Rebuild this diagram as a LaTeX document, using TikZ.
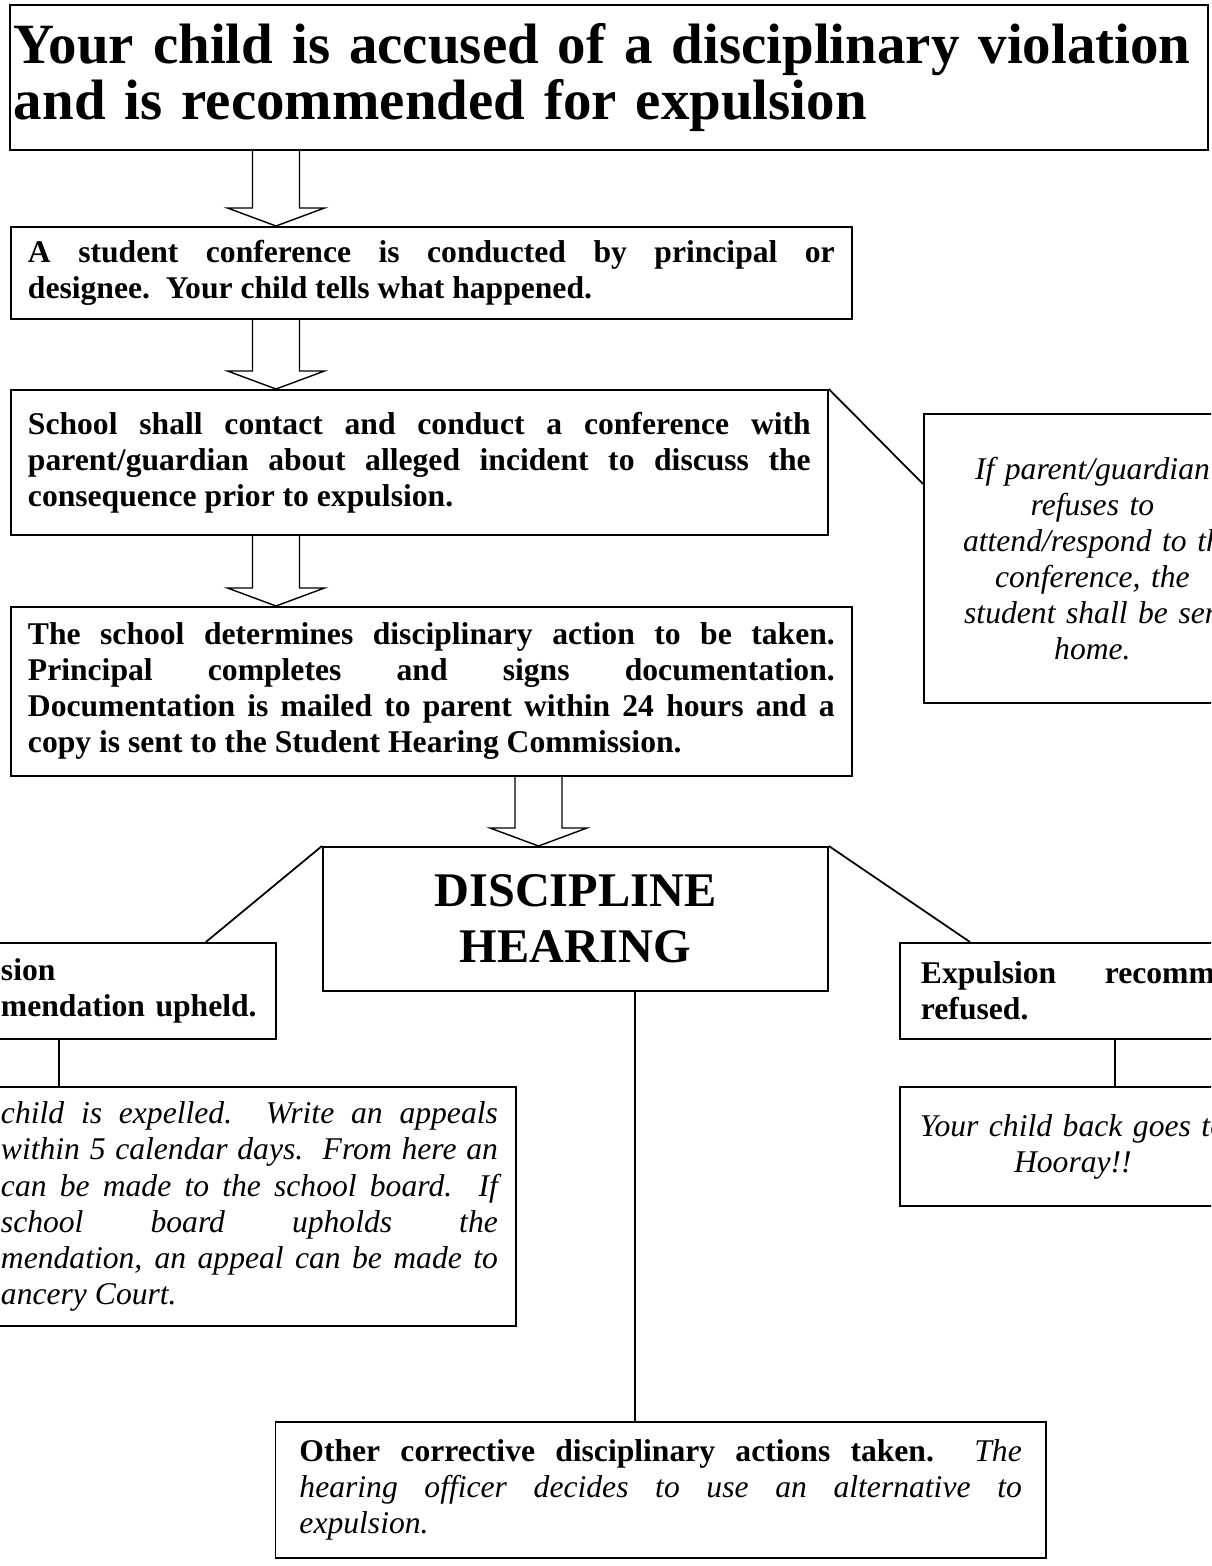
\documentclass[tikz,border=0pt]{standalone}
\usepackage{fontspec}
\setmainfont{Liberation Serif}
\usetikzlibrary{calc}
\tolerance=10000
\hbadness=10000
\hyphenpenalty=10000
\tikzset{
  flow box/.style={
    draw=black,
    line width=1.1pt,
    anchor=north west,
    inner xsep=0.34cm,
    inner ysep=0pt,
    align=justify,
    font=\fontsize{18}{20.5}\selectfont\bfseries,
  },
  note box/.style={
    flow box,
    font=\fontsize{18}{20.5}\selectfont\itshape,
  },
  flow link/.style={line width=1pt, draw=black},
  flow arrow/.style={line width=0.8pt, draw=black, line join=miter},
}
% hollow block arrow: upper node, lower node, x offset from upper.south west
\newcommand{\hollowarrow}[3]{%
  \coordinate (arrow top) at ($(#1.south west)+(#3,0)$);
  \coordinate (arrow tip) at (arrow top |- #2.north);
  \draw[flow arrow] ($(arrow top)+(-23.5,0)$) -- ($(arrow tip)+(-23.5,-18)$)
    -- ($(arrow tip)+(-48.5,-18)$) -- (arrow tip) -- ($(arrow tip)+(48.5,-18)$)
    -- ($(arrow tip)+(23.5,-18)$) -- ($(arrow top)+(23.5,0)$);
}

\begin{document}
\begin{tikzpicture}[x=0.02cm,y=-0.02cm]
  \useasboundingbox (0,0) rectangle (1211,1566);
  \fill[white] (0,0) rectangle (1211,1566);
  \clip (0,0) rectangle (1211,1566);

  % main column
  \node[flow box, align=left, inner xsep=0.08cm, text width=23.8cm, minimum height=2.9cm,
    font=\fontsize{32.4}{32}\selectfont\bfseries] (accused) at (9,4)
    {Your child is accused of a disciplinary violation\\and is recommended for expulsion\par\vspace*{-0.44cm}};
  \node[flow box, text width=16.14cm, minimum height=1.84cm] (conf) at (10,226)
    {A student conference is conducted by principal or\linebreak designee.\ \ Your child tells what happened.};
  \node[flow box, text width=15.66cm, minimum height=2.9cm] (contact) at (10,389)
    {School shall contact and conduct a conference with\linebreak parent/guardian about alleged incident to discuss the\linebreak consequence prior to expulsion.};
  \node[note box, align=center, text width=6.06cm, minimum height=5.78cm] (refuse) at (923,413)
    {If parent/guardian\\refuses to\\attend/respond to th\\conference, the\\student shall be sen\\home.\par\vspace*{0.6cm}};
  \node[flow box, text width=16.14cm, minimum height=3.38cm] (action) at (10,606)
    {The school determines disciplinary action to be taken.\linebreak Principal completes and signs documentation.\linebreak Documentation is mailed to parent within 24 hours and a\linebreak copy is sent to the Student Hearing Commission.};
  \node[flow box, align=center, text width=9.42cm, minimum height=2.88cm,
    font=\fontsize{27.5}{32}\selectfont\bfseries] (hearing) at (322,846)
    {DISCIPLINE\\HEARING};

  % outcomes
  \node[flow box, align=left, inner xsep=0.14cm, text width=5.36cm, minimum height=1.92cm] (upheld) at (-7,942)
    {sion\\mendation upheld.};
  \node[flow box, inner xsep=0.42cm, text width=5.88cm, minimum height=1.92cm] (refused) at (899,942)
    {Expulsion recomm\linebreak refused.};
  \node[note box, inner xsep=0.36cm, text width=9.94cm, minimum height=4.78cm] (appeal) at (-18,1086)
    {child is expelled.\ \ Write an appeals\linebreak within 5 calendar days.\ \ From here an\linebreak can be made to the school board.\ \ If\linebreak school board upholds the\linebreak mendation, an appeal can be made to\linebreak ancery Court.};
  \node[note box, align=center, text width=6.24cm, minimum height=2.38cm] (back) at (899,1086)
    {Your child back goes to\\Hooray!!\par\vspace*{0.52cm}};
  \node[flow box, inner xsep=0.48cm, text width=14.45cm, minimum height=2.72cm] (other) at (274.5,1421)
    {Other corrective disciplinary actions taken.\ \ {\mdseries\itshape The\linebreak hearing officer decides to use an alternative to\linebreak expulsion.}};

  % block arrows
  \hollowarrow{accused}{conf}{267}
  \hollowarrow{conf}{contact}{266}
  \hollowarrow{contact}{action}{266}
  \hollowarrow{action}{hearing}{528.5}

  % links
  \draw[flow link] (contact.north east) -- ($(refuse.north west)+(0,71)$);
  \draw[flow link] (hearing.north west) -- ($(upheld.north east)+(-71,0)$);
  \draw[flow link] (hearing.north east) -- ($(refused.north west)+(71,0)$);
  \draw[flow link] ($(upheld.south west)+(66,0)$) coordinate (u) -- (u |- appeal.north);
  \draw[flow link] ($(refused.south west)+(216,0)$) coordinate (r) -- (r |- back.north);
  \draw[flow link] ($(hearing.south west)+(313,0)$) coordinate (h) -- (h |- other.north);
\end{tikzpicture}
\end{document}
